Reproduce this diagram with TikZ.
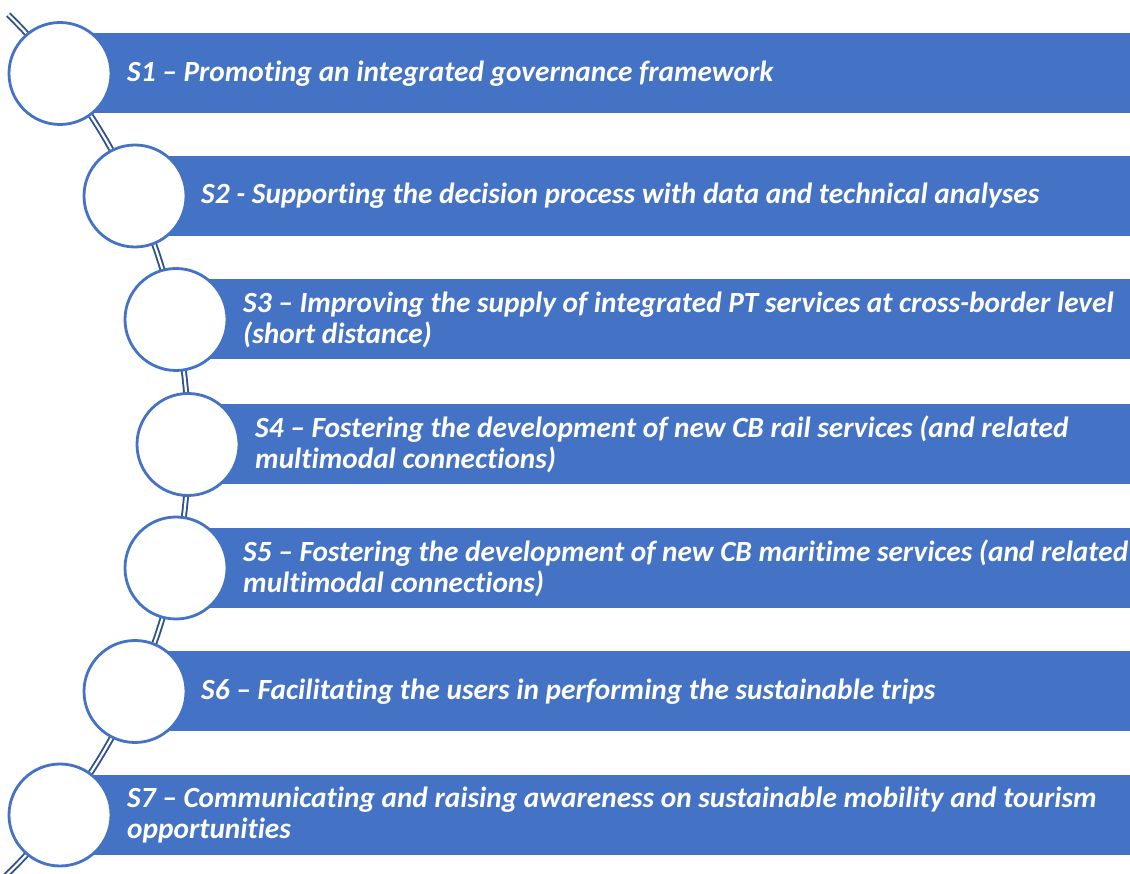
\documentclass[tikz,border=0pt]{standalone}
\usepackage{fontspec}
\setmainfont{Carlito}[Ligatures=NoCommon]
\definecolor{accent}{HTML}{4472C4}
\definecolor{navy}{HTML}{2F528F}
\begin{document}
\begin{tikzpicture}[x=1pt,y=1pt,
  bar/.style={fill=accent, draw=none, minimum height=80pt, inner sep=0pt, outer sep=0pt, anchor=west},
  dot/.style={circle, fill=white, draw=accent, line width=2.8pt, minimum size=102pt, inner sep=0pt, outer sep=0pt},
  lbl/.style={anchor=west, text=white, inner sep=0pt, align=left, font=\fontsize{29.3}{31}\selectfont\bfseries\itshape},
  spine/.style={draw=navy, line width=1.9pt, double=white, double distance=2.2pt}]
\useasboundingbox (0,0) rectangle (1130,873);
\clip (0,0) rectangle (1130,873);
\fill[white] (0,0) rectangle (1130,873);
\coordinate (ac) at (-413.7,429);
\draw[spine] ([shift={(-47:602pt)}]ac) arc[start angle=-47,end angle=45.5,radius=602pt];
% bars
\node[bar, minimum width=1080pt] (b1) at (60,799.5) {};
\node[bar, minimum width=1005pt] (b2) at (135,677) {};
\node[bar, minimum width=964pt]  (b3) at (176,553.5) {};
\node[bar, minimum width=952pt]  (b4) at (188,428.5) {};
\node[bar, minimum width=964pt]  (b5) at (176,305) {};
\node[bar, minimum width=1005pt] (b6) at (135,181.5) {};
\node[bar, minimum width=1080pt] (b7) at (60,58) {};
% circles
\node[dot] (c1) at (60,799.5) {};
\node[dot] (c2) at (135,677) {};
\node[dot] (c3) at (176,553.5) {};
\node[dot] (c4) at (188,428.5) {};
\node[dot] (c5) at (176,305) {};
\node[dot] (c6) at (135,181.5) {};
\node[dot] (c7) at (60,58) {};
% labels
\node[lbl] (t1) at (127,799.5) {S1 – Promoting an integrated governance framework};
\node[lbl] (t2) at (201,677) {S2 - Supporting the decision process with data and technical analyses};
\node[lbl] (t3) at (243,553.5) {S3 – Improving the supply of integrated PT services at cross-border level\\(short distance)};
\node[lbl] (t4) at (255,428.5) {S4 – Fostering the development of new CB rail services (and related\\multimodal connections)};
\node[lbl] (t5) at (243,305) {S5 – Fostering the development of new CB maritime services (and related\\multimodal connections)};
\node[lbl] (t6) at (201,181.5) {S6 – Facilitating the users in performing the sustainable trips};
\node[lbl] (t7) at (127,58) {S7 – Communicating and raising awareness on sustainable mobility and tourism\\opportunities};
\end{tikzpicture}
\end{document}
